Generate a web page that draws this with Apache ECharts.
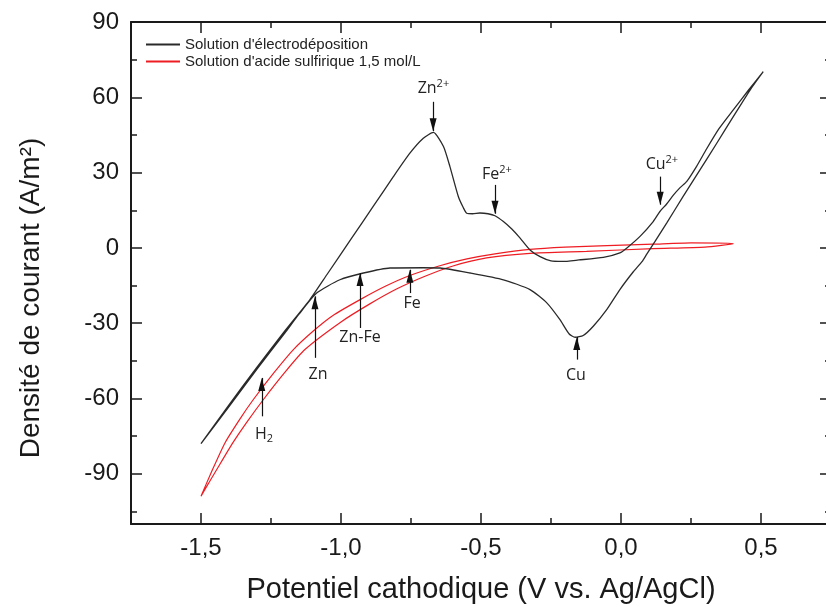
<!DOCTYPE html>
<html><head><meta charset="utf-8">
<script src="https://cdn.jsdelivr.net/npm/echarts@6/dist/echarts.min.js"></script>
<style>html,body{margin:0;padding:0;background:#fff}#c{width:826px;height:607px}</style>
</head><body><div id="c"></div>
<script>
// Solution d'électrodéposition (closed CV loop)
const electroPotential = [0.508, 0.461, 0.401, 0.342, 0.282, 0.222, 0.163, 0.121, 0.092, 0.075, 0.044, -0.004, -0.051, -0.099, -0.135, -0.164, -0.185, -0.218, -0.265, -0.325, -0.420, -0.539, -0.646, -0.706, -0.825, -0.920, -1.004, -1.087, -1.15, -1.2, -1.3, -1.4, -1.5,
  -1.4, -1.3, -1.2, -1.111, -1.05, -0.962, -0.885, -0.813, -0.754, -0.706, -0.67, -0.634, -0.611, -0.581, -0.563, -0.551, -0.53, -0.504, -0.475, -0.45, -0.42, -0.39, -0.361, -0.325, -0.289, -0.25, -0.21, -0.15, -0.063, -0.004, 0.020, 0.068, 0.115, 0.139, 0.163, 0.187, 0.211, 0.235, 0.27, 0.306, 0.35, 0.401, 0.455, 0.508];
const electroCurrent = [70.2, 62.9, 52.3, 41.7, 31.1, 20.5, 9.9, 2.5, -2.5, -5.5, -9.5, -16.6, -24.6, -31.2, -34.9, -35.6, -34.3, -28.6, -21.9, -16.6, -12.7, -10.0, -8.0, -7.9, -8.0, -10.0, -12.7, -18.0, -26.4, -33.8, -48.3, -63.2, -78,
  -62.5, -47.5, -33, -20.6, -10.6, 3.9, 16.5, 28.4, 37.75, 43.7, 46.0, 40.4, 32.4, 20.5, 16.0, 13.8, 13.6, 13.9, 13.6, 12.8, 10.5, 7.5, 4.0, -0.8, -3.5, -5.2, -5.4, -4.8, -3.8, -2.0, -0.1, 4.6, 10.5, 14.5, 17.5, 21.0, 24.0, 26.5, 32.5, 39.5, 47.5, 55.0, 62.8, 70.2];
// Solution d'acide sulfurique 1,5 mol/L (closed CV loop)
const acidPotential = [-1.5, -1.46, -1.414, -1.36, -1.313, -1.24, -1.17, -1.1, -1.03, -0.93, -0.84, -0.754, -0.65, -0.55, -0.45, -0.325, -0.2, -0.05, 0.115, 0.25, 0.401,
  0.3, 0.115, -0.123, -0.325, -0.48, -0.6, -0.7, -0.8, -0.9, -1.0, -1.129, -1.2, -1.277, -1.34, -1.386, -1.44, -1.5];
const acidCurrent = [-98.9, -88.6, -77.6, -68.0, -60.4, -49.8, -40.5, -33.2, -27.0, -20.5, -15.2, -11.0, -7.2, -4.4, -2.4, -0.6, 0.3, 0.9, 1.5, 2.0, 1.7,
  0.3, -0.3, -1.4, -2.2, -4.0, -7.2, -11.3, -16.3, -22.5, -29.5, -40.5, -49.5, -60.4, -70.0, -77.6, -87.6, -98.9];

const seriesNames = ["Solution d'électrodéposition", "Solution d'acide sulfirique 1,5 mol/L"];
const xMajorTicks = [-1.5, -1.0, -0.5, 0.0, 0.5];
const xMinorTicks = [-1.75, -1.25, -0.75, -0.25, 0.25];
const yMajorTicks = [-90, -60, -30, 0, 30, 60, 90];
const yMinorTicks = [-105, -75, -45, -15, 15, 45, 75];

// Annotations
const annotationText = ['Zn|2+', 'Fe|2+', 'Cu|2+', 'H_2', 'Zn', 'Zn-Fe', 'Fe', 'Cu'];
const labelPotential = [-0.67, -0.443, 0.146, -1.275, -1.082, -0.932, -0.746, -0.161];
const labelCurrent = [63.7, 29.1, 33.1, -74.3, -50.5, -35.7, -22.2, -50.9];
const arrowPotential = [-0.671, -0.45, 0.14, -1.283, -1.093, -0.932, -0.754, -0.158];
const arrowTail = [58.2, 25.1, 28.4, -67.1, -43.8, -31.9, -18.0, -44.5];
const arrowTip = [46.5, 13.6, 17.2, -51.8, -19.3, -10.0, -8.7, -35.5];

const FONT = 'Liberation Sans';
const INK = '#1a1a1a';
const zip = (a, b) => a.map((v, i) => [v, b[i]]);

function makeX(position, ticks, len, withLabel, withLine) {
  return {
    type: 'value', position, min: -1.75, max: 0.75, gridIndex: 0,
    axisLine: { show: withLine, onZero: false, lineStyle: { color: INK, width: 2 } },
    axisTick: { show: true, inside: true, length: len, customValues: ticks, lineStyle: { color: INK, width: 1.5 } },
    axisLabel: withLabel ? { show: true, customValues: ticks, margin: 12, fontSize: 24, fontFamily: FONT, color: INK,
      formatter: v => v.toFixed(1).replace('.', ',') } : { show: false },
    splitLine: { show: false }
  };
}
function makeY(position, ticks, len, withLabel, withLine) {
  return {
    type: 'value', position, min: -110, max: 90, gridIndex: 0,
    axisLine: { show: withLine, onZero: false, lineStyle: { color: INK, width: 2 } },
    axisTick: { show: true, inside: true, length: len, customValues: ticks, lineStyle: { color: INK, width: 1.5 } },
    axisLabel: withLabel ? { show: true, customValues: ticks, margin: 12, fontSize: 24, fontFamily: FONT, color: INK,
      formatter: v => String(v) } : { show: false },
    splitLine: { show: false }
  };
}

const xAxes = [
  Object.assign(makeX('bottom', xMajorTicks, 11, true, true), {
    name: 'Potentiel cathodique (V vs. Ag/AgCl)', nameLocation: 'middle', nameGap: 51,
    nameTextStyle: { fontSize: 29, fontFamily: FONT, color: INK }
  }),
  makeX('bottom', xMinorTicks, 6, false, false),
  makeX('top', xMajorTicks, 11, false, true),
  makeX('top', xMinorTicks, 6, false, false)
];
const yAxes = [
  Object.assign(makeY('left', yMajorTicks, 11, true, true), {
    name: 'Densité de courant (A/m²)', nameLocation: 'middle', nameGap: 86, nameRotate: 90,
    nameTextStyle: { fontSize: 28, fontFamily: FONT, color: INK, padding: [0, 50, 0, 0] }
  }),
  makeY('left', yMinorTicks, 6, false, false),
  makeY('right', yMajorTicks, 11, false, true),
  makeY('right', yMinorTicks, 6, false, false)
];

function richText(t) {
  if (t.indexOf('|') >= 0) { const p = t.split('|'); return '{m|' + p[0] + '}{sup|' + p[1] + '}'; }
  if (t.indexOf('_') >= 0) { const p = t.split('_'); return '{m|' + p[0] + '}{sub|' + p[1] + '}'; }
  return '{m|' + t + '}';
}

const arrowData = arrowPotential.map((x, i) => [
  { coord: [x, arrowTail[i]], symbol: 'none' },
  { coord: [x, arrowTip[i]], symbol: 'triangle', symbolSize: [7, 13], symbolOffset: [0, 6.5] }
]);

const option = {
  backgroundColor: '#ffffff',
  animation: false,
  grid: { left: 131, top: 22, width: 700, height: 502, containLabel: false, outerBoundsMode: 'none' },
  legend: {
    orient: 'vertical', left: 146, top: 37, padding: 0, itemWidth: 34, itemHeight: 2, itemGap: 2, icon: 'rect',
    textStyle: { fontSize: 15, fontFamily: FONT, color: '#222' },
    data: seriesNames
  },
  xAxis: xAxes,
  yAxis: yAxes,
  series: [
    {
      name: seriesNames[0], type: 'line', data: zip(electroPotential, electroCurrent),
      symbol: 'none', smooth: 0.2, color: '#2a2a2a',
      lineStyle: { color: '#2a2a2a', width: 1.3 }, z: 3
    },
    {
      name: seriesNames[1], type: 'line', data: zip(acidPotential, acidCurrent),
      symbol: 'none', smooth: 0.2, color: '#ee1d23',
      lineStyle: { color: '#ee1d23', width: 1.2 }, z: 2
    },
    {
      name: 'annotations', type: 'scatter', silent: true,
      data: labelPotential.map((x, i) => ({ value: [x, labelCurrent[i]], name: annotationText[i] })),
      symbolSize: 2, itemStyle: { color: 'rgba(255,255,255,0)' },
      label: {
        show: true, position: 'inside', color: '#222', opacity: 1,
        formatter: p => richText(p.name),
        rich: {
          m: { fontSize: 16, fontFamily: 'Open Sans', color: '#222', lineHeight: 20 },
          sup: { fontSize: 11, fontFamily: 'Open Sans', color: '#222', verticalAlign: 'top', lineHeight: 10 },
          sub: { fontSize: 11, fontFamily: 'Open Sans', color: '#222', verticalAlign: 'bottom', lineHeight: 10, padding: [8, 0, 0, 0] }
        }
      },
      markLine: {
        silent: true, animation: false,
        label: { show: false },
        lineStyle: { color: '#111', width: 1.2, type: 'solid' },
        itemStyle: { color: '#111' },
        emphasis: { disabled: true },
        data: arrowData
      },
      z: 4
    }
  ]
};
const chart = echarts.init(document.getElementById('c'), null, { renderer: 'canvas' });
chart.setOption(option);
</script></body></html>
